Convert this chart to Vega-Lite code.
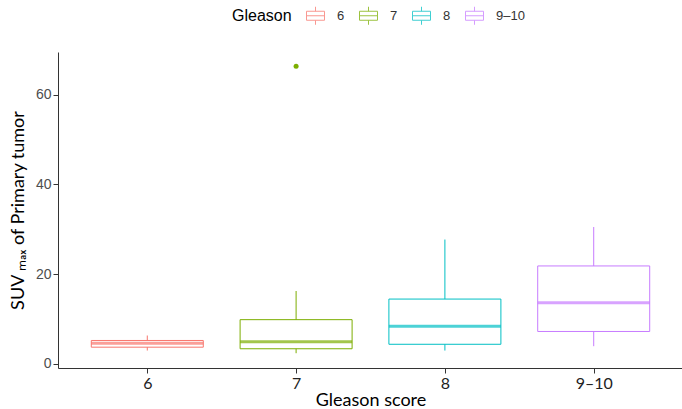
{
  "$schema": "https://vega.github.io/schema/vega-lite/v6.json",
  "autosize": "none",
  "width": 625,
  "height": 316,
  "padding": {"left": 58, "top": 52, "right": 0, "bottom": 41},
  "background": "white",
  "config": {"view": {"stroke": null}, "axis": {"grid": false}},
  "datasets": {
    "box": [
      {"g": "6", "lo": 2.9, "q1": 3.65, "med": 4.55, "q3": 5.15, "hi": 6.26},
      {"g": "7", "lo": 2.3, "q1": 3.3, "med": 4.85, "q3": 9.8, "hi": 16.2},
      {"g": "8", "lo": 2.9, "q1": 4.3, "med": 8.3, "q3": 14.4, "hi": 27.7},
      {"g": "9–10", "lo": 3.87, "q1": 7.16, "med": 13.6, "q3": 21.8, "hi": 30.5}
    ],
    "out": [
      {"g": "7", "v": 66.4}
    ]
  },
  "layer": [
    {
      "data": {"name": "box"},
      "mark": {"type": "rule", "strokeWidth": 1},
      "encoding": {
        "x": {
          "field": "g", "type": "nominal",
          "scale": {"type": "point", "padding": 0.6, "domain": ["6", "7", "8", "9–10"]},
          "axis": {
            "title": "Gleason score", "titleFont": "Lato", "titleFontSize": 18, "titleFontWeight": "normal", "titleColor": "#000",
            "labelFont": "Lato", "labelFontSize": 16, "labelColor": "#222", "labelAngle": 0,
            "tickSize": 5, "labelPadding": 2, "titlePadding": 0, "domainColor": "#333", "tickColor": "#333"
          }
        },
        "y": {
          "field": "lo", "type": "quantitative",
          "scale": {"domain": [-1.0, 69.6], "nice": false, "zero": false},
          "axis": {
            "values": [0, 20, 40, 60],
            "title": "SUV ₘₐₓ of Primary tumor", "titleFont": "Lato", "titleFontSize": 18, "titleFontWeight": "normal", "titleColor": "#000", "titlePadding": 8,
            "labelFont": "Liberation Sans", "labelFontSize": 14, "labelColor": "#4d4d4d", "labelPadding": 2,
            "tickSize": 5, "tickColor": "#333", "domainColor": "#333"
          }
        },
        "y2": {"field": "q1"},
        "color": {
          "field": "g", "type": "nominal",
          "scale": {"domain": ["6", "7", "8", "9–10"], "range": ["#F8766D", "#7CAE00", "#00BFC4", "#C77CFF"]},
          "legend": {
            "orient": "none", "legendX": 174, "legendY": -46, "direction": "horizontal",
            "title": "Gleason", "titleOrient": "left", "titleFont": "Liberation Sans", "titleFontSize": 16, "titleFontWeight": "normal", "titleColor": "#000", "titlePadding": 14,
            "labelFont": "Liberation Sans", "labelFontSize": 13, "labelColor": "#333", "labelOffset": 12,
            "symbolType": "M-1,-0.5H1 M1,-0.5V0.5 M1,0.5H-1 M-1,0.5V-0.5 M-1,0H1 M0,-0.5V-1 M0,0.5V1",
            "symbolSize": 324, "symbolStrokeWidth": 1, "symbolOpacity": 0.75,
            "columnPadding": 12, "padding": 0
          }
        }
      }
    },
    {
      "data": {"name": "box"},
      "mark": {"type": "rule", "strokeWidth": 1},
      "encoding": {
        "x": {"field": "g", "type": "nominal"},
        "y": {"field": "q3", "type": "quantitative"},
        "y2": {"field": "hi"},
        "color": {"field": "g", "type": "nominal"}
      }
    },
    {
      "data": {"name": "box"},
      "mark": {"type": "bar", "size": 112, "filled": false, "strokeWidth": 1},
      "encoding": {
        "x": {"field": "g", "type": "nominal"},
        "y": {"field": "q1", "type": "quantitative"},
        "y2": {"field": "q3"},
        "color": {"field": "g", "type": "nominal"}
      }
    },
    {
      "data": {"name": "box"},
      "mark": {"type": "tick", "size": 112, "thickness": 3},
      "encoding": {
        "x": {"field": "g", "type": "nominal"},
        "y": {"field": "med", "type": "quantitative"},
        "fill": {
          "field": "g", "type": "nominal",
          "scale": {"domain": ["6", "7", "8", "9–10"], "range": ["#F8766D", "#7CAE00", "#00BFC4", "#C77CFF"]},
          "legend": null
        }
      }
    },
    {
      "data": {"name": "out"},
      "mark": {"type": "point", "filled": true, "size": 25, "opacity": 1},
      "encoding": {
        "x": {"field": "g", "type": "nominal"},
        "y": {"field": "v", "type": "quantitative"},
        "fill": {"field": "g", "type": "nominal", "legend": null}
      }
    }
  ]
}
